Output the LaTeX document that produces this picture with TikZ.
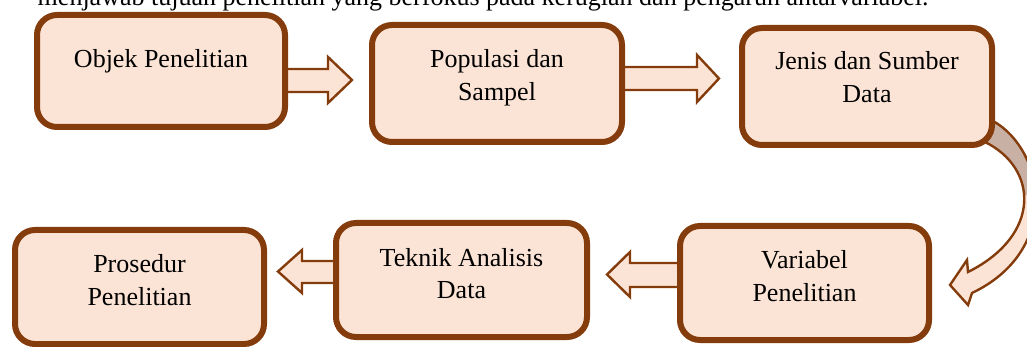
\documentclass[tikz,border=0pt]{standalone}
\usepackage{fontspec}
\setmainfont{Liberation Serif}
\usetikzlibrary{calc,backgrounds}
\definecolor{brd}{HTML}{843C0C}
\definecolor{bfill}{HTML}{FBE4D5}
\definecolor{bgray}{HTML}{C8B0A4}
\tikzset{
  stepbox/.style={draw=brd, fill=bfill, line width=3pt, rounded corners=10pt, inner sep=0pt},
  lbl/.style={font=\fontsize{13}{16.5}\selectfont, align=center, inner sep=0pt, text=black},
  barrow/.style={draw=brd, fill=bfill, line width=1.2pt, line join=miter},
}
\begin{document}
\begin{tikzpicture}[x=0.5pt,y=-0.5pt]
\useasboundingbox (0,0) rectangle (1027,347);
% cut-off line of text above the diagram
\node[lbl, anchor=base east] (top) at (929,6) {menjawab tujuan penelitian yang berfokus pada kerugian dan pengaruh antarvariabel.};
% boxes
\node[stepbox, minimum width=124pt, minimum height=56pt] (b1) at (161,71) {};
\node[stepbox, minimum width=125pt, minimum height=58.5pt] (b2) at (497,83.5) {};
\node[stepbox, minimum width=125pt, minimum height=58.5pt] (b3) at (867,86.5) {};
\node[stepbox, minimum width=124.5pt, minimum height=57pt] (b4) at (804.5,283) {};
\node[stepbox, minimum width=125.5pt, minimum height=57pt] (b5) at (461.5,280) {};
\node[stepbox, minimum width=124.5pt, minimum height=57pt] (b6) at (139.5,287) {};
% labels (base anchor = baseline of last line)
\node[lbl, anchor=base] (t1) at (161,68) {Objek Penelitian};
\node[lbl, anchor=base] (t2) at (497,101) {Populasi dan\\Sampel};
\node[lbl, anchor=base] (t3) at (867,103) {Jenis dan Sumber\\Data};
\node[lbl, anchor=base] (t4) at (804.5,301) {Variabel\\Penelitian};
\node[lbl, anchor=base] (t5) at (461.5,299) {Teknik Analisis\\Data};
\node[lbl, anchor=base] (t6) at (139.5,305) {Prosedur\\Penelitian};
% block arrows behind the boxes
\begin{scope}[on background layer]
\draw[barrow] (b1.east |- 0,69) -- (328,69) -- (328,57) -- (352,80) -- (328,103) -- (328,92) -- (b1.east |- 0,92);
\draw[barrow] (b2.east |- 0,67) -- (697,67) -- (697,55) -- (719,78.5) -- (697,102) -- (697,90) -- (b2.east |- 0,90);
\draw[barrow] (b4.west |- 0,263) -- (630,263) -- (630,252) -- (607,274.5) -- (630,297) -- (630,287) -- (b4.west |- 0,287);
\draw[barrow] (b5.west |- 0,261) -- (302,261) -- (302,250) -- (278,271.5) -- (302,293) -- (302,283) -- (b5.west |- 0,283);
% curved arrow from b3 to b4
\path[save path=\curvedarrow] ($(b3.south east)+(-2,-27)$) .. controls (1045,150) and (1062,250) .. (972,293)
   -- (968,305) -- (950,285) -- (967,260) -- (968,272)
   .. controls (1042,235) and (1038,168) .. (985,142) -- cycle;
\fill[bfill, use path=\curvedarrow];
\begin{scope}
\clip (940,100) rectangle (1070,195);
\fill[bgray, use path=\curvedarrow];
\end{scope}
\draw[brd, line width=1.2pt, line join=miter, use path=\curvedarrow];
\end{scope}
\end{tikzpicture}
\end{document}
